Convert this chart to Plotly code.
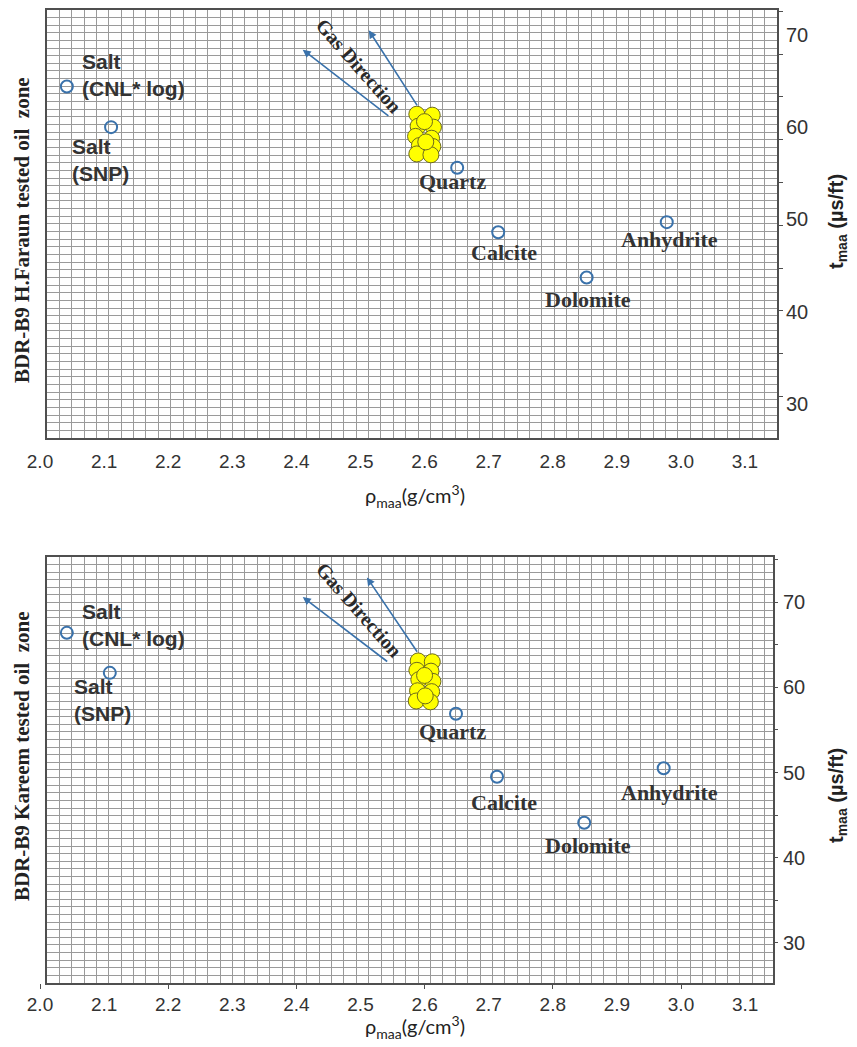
import plotly.graph_objects as go

# ---------------------------------------------------------------------------
# Matrix density (rho_maa) vs matrix transit time (t_maa) cross-plot data
# ---------------------------------------------------------------------------
x_tick_vals = [2.0, 2.1, 2.2, 2.3, 2.4, 2.5, 2.6, 2.7, 2.8, 2.9, 3.0, 3.1]
x_tick_text = ["2.0", "2.1", "2.2", "2.3", "2.4", "2.5", "2.6", "2.7", "2.8", "2.9", "3.0", "3.1"]
y_tick_vals = [30, 40, 50, 60, 70]
y_tick_text = ["30", "40", "50", "60", "70"]

mineral_names = ["Salt<br>(CNL* log)", "Salt<br>(SNP)", "Quartz", "Calcite", "Dolomite", "Anhydrite"]

# mineral reference points, H.Faraun panel
faraun_min_rho = [2.042, 2.111, 2.651, 2.715, 2.853, 2.978]
faraun_min_dt = [64.4, 60.0, 55.6, 48.6, 43.7, 49.7]
# mineral reference points, Kareem panel
kareem_min_rho = [2.042, 2.109, 2.649, 2.713, 2.849, 2.973]
kareem_min_dt = [66.4, 61.7, 56.9, 49.5, 44.1, 50.5]

# tested oil zone samples
faraun_zone_rho = [2.588, 2.612, 2.590, 2.614, 2.586, 2.611, 2.592, 2.613, 2.588, 2.610, 2.600, 2.602]
faraun_zone_dt = [61.4, 61.3, 60.1, 60.0, 59.0, 58.8, 58.0, 57.9, 57.1, 57.0, 60.6, 58.4]
kareem_zone_rho = [2.590, 2.612, 2.588, 2.610, 2.591, 2.613, 2.589, 2.611, 2.587, 2.609, 2.600, 2.601]
kareem_zone_dt = [63.1, 63.0, 62.0, 61.9, 60.9, 60.7, 59.6, 59.5, 58.4, 58.3, 61.4, 59.0]

# gas-effect direction arrows: (tail rho, tail dt, head rho, head dt)
faraun_gas_arrows = [(2.590, 62.2, 2.513, 70.5), (2.546, 61.1, 2.410, 68.4)]
kareem_gas_arrows = [(2.590, 64.0, 2.510, 72.9), (2.544, 62.9, 2.410, 70.6)]
faraun_gas_label = (2.498, 66.65)
kareem_gas_label = (2.498, 69.06)

# ---------------------------------------------------------------------------
W, H = 857, 1047
SERIF = "Liberation Serif, Times New Roman, serif"
SANS = "Liberation Sans, Arial, sans-serif"
BLUE = "#3a72ab"
FRAME = "#4f4f4f"
GRID = "#9a9a9a"


def fx(p):
    return p / W


def fy(p):
    return 1 - p / H


panels = [
    dict(
        title="BDR-B9 H.Faraun tested oil\u00a0 zone",
        rho=faraun_min_rho, dt=faraun_min_dt,
        zrho=faraun_zone_rho, zdt=faraun_zone_dt,
        arrows=faraun_gas_arrows, gas=faraun_gas_label,
        left=47, lab_left=40, right=777, top=10, bottom=438,
        xr=(2.011, 3.150), xr_lab=(2.0, 3.150), yr=(26.3, 72.7),
        ydt=0.829,
        shifts=[(13, 12, "left"), (-41, -33, "left"), (-5, -14, "center"),
                (6, -20, "center"), (1, -22, "center"), (3, -17, "center")],
        ytitle_y=230, rtitle_y=222, xtitle_y=496,
        yticks=dict(ticks="", ticklabelstandoff=8,
                    minor=dict(ticks="outside", ticklen=5, tick0=30.8, dtick=4.64,
                               tickcolor=FRAME, showgrid=False)),
        xticks=dict(ticks="", ticklabelstandoff=10),
    ),
    dict(
        title="BDR-B9 Kareem tested oil\u00a0 zone",
        rho=kareem_min_rho, dt=kareem_min_dt,
        zrho=kareem_zone_rho, zdt=kareem_zone_dt,
        arrows=kareem_gas_arrows, gas=kareem_gas_label,
        left=47, lab_left=40, right=773, top=557, bottom=983,
        xr=(2.011, 3.1435), xr_lab=(2.0, 3.1435), yr=(25.3, 75.3),
        ydt=0.893,
        shifts=[(13, 8, "left"), (-38, -27, "left"), (-4, -18, "center"),
                (7, -26, "center"), (4, -23, "center"), (6, -24, "center")],
        ytitle_y=757, rtitle_y=796, xtitle_y=1027,
        yticks=dict(ticks="outside", ticklen=4, tickcolor=FRAME, ticklabelstandoff=1,
                    minor=dict(ticks="outside", ticklen=4, tick0=25, dtick=5,
                               tickcolor=FRAME, showgrid=False)),
        xticks=dict(ticks="", ticklabelstandoff=8,
                    minor=dict(ticks="outside", ticklen=5, tick0=2.0, dtick=0.2,
                               tickcolor=FRAME, showgrid=False)),
    ),
]

fig = go.Figure()
layout = {}
annotations = []

for i, p in enumerate(panels):
    dx = "x" if i == 0 else f"x{2 * i + 1}"
    dy = "y" if i == 0 else f"y{2 * i + 1}"
    hx, hy = f"x{2 * i + 2}", f"y{2 * i + 2}"
    dxk = "xaxis" if i == 0 else f"xaxis{2 * i + 1}"
    dyk = "yaxis" if i == 0 else f"yaxis{2 * i + 1}"
    hxk, hyk = f"xaxis{2 * i + 2}", f"yaxis{2 * i + 2}"
    vdom = [fy(p["bottom"]), fy(p["top"])]

    # graph-paper data subplot with a closed frame
    layout[dxk] = dict(
        domain=[fx(p["left"]), fx(p["right"])], range=list(p["xr"]), anchor=dy,
        showticklabels=False, ticks="", zeroline=False, automargin=False,
        showgrid=True, gridcolor=GRID, gridwidth=1, tick0=p["xr"][0], dtick=0.0193,
        showline=True, mirror=True, linecolor=FRAME, linewidth=2,
    )
    layout[dyk] = dict(
        domain=vdom, range=list(p["yr"]), anchor=dx,
        showticklabels=False, ticks="", zeroline=False, automargin=False,
        showgrid=True, gridcolor=GRID, gridwidth=1, tick0=p["yr"][0], dtick=p["ydt"],
        showline=True, mirror=True, linecolor=FRAME, linewidth=2,
    )
    # scale subplot carrying the tick labels
    layout[hxk] = dict(
        domain=[fx(p["lab_left"]), fx(p["right"])], range=list(p["xr_lab"]), anchor=hy,
        tickmode="array", tickvals=x_tick_vals, ticktext=x_tick_text,
        showgrid=False, zeroline=False, showline=False, automargin=False,
        tickfont=dict(family=SANS, size=19, color="#333333"),
        **p["xticks"],
    )
    layout[hyk] = dict(
        domain=vdom, range=list(p["yr"]), anchor=hx, side="right",
        tickmode="array", tickvals=y_tick_vals, ticktext=y_tick_text,
        showgrid=False, zeroline=False, showline=False, automargin=False,
        tickfont=dict(family=SANS, size=20, color="#333333"),
        **p["yticks"],
    )
    fig.add_trace(go.Scatter(x=[], y=[], xaxis=hx, yaxis=hy, showlegend=False, hoverinfo="skip"))

    # tested-zone samples
    fig.add_trace(go.Scatter(
        x=p["zrho"], y=p["zdt"], xaxis=dx, yaxis=dy, mode="markers", showlegend=False,
        marker=dict(size=16, color="#ffff00", line=dict(color="#6d6a1c", width=1)),
    ))
    # mineral points
    fig.add_trace(go.Scatter(
        x=p["rho"], y=p["dt"], xaxis=dx, yaxis=dy, mode="markers", showlegend=False,
        marker=dict(symbol="circle-open", size=12, color=BLUE, line=dict(width=2)),
    ))

    for name, r, t, (sx, sy, anc) in zip(mineral_names, p["rho"], p["dt"], p["shifts"]):
        is_salt = name.startswith("Salt")
        annotations.append(dict(
            x=r, y=t, xref=dx, yref=dy, text=name, showarrow=False,
            xanchor=anc, yanchor="middle", xshift=sx, yshift=sy, align="left",
            font=dict(family=SANS if is_salt else SERIF, size=21 if is_salt else 22,
                      color="#333333", weight="bold"),
        ))

    for tr, tt, hr, ht in p["arrows"]:
        annotations.append(dict(
            x=hr, y=ht, ax=tr, ay=tt, xref=dx, yref=dy, axref=dx, ayref=dy,
            text="", showarrow=True, arrowhead=2, arrowsize=1, arrowwidth=1.6,
            arrowcolor=BLUE,
        ))

    annotations.append(dict(
        x=p["gas"][0], y=p["gas"][1], xref=dx, yref=dy, text="Gas Direction",
        showarrow=False, textangle=48.6, xanchor="center", yanchor="middle",
        font=dict(family=SERIF, size=20, color="#2a2a2a", weight="bold"),
    ))

    # axis titles
    annotations.append(dict(
        x=fx(22), y=fy(p["ytitle_y"]), xref="paper", yref="paper", text=p["title"],
        showarrow=False, textangle=-90, xanchor="center", yanchor="middle",
        font=dict(family=SERIF, size=21, color="#222222", weight="bold"),
    ))
    annotations.append(dict(
        x=fx(837), y=fy(p["rtitle_y"]), xref="paper", yref="paper",
        text="t<sub>maa</sub> (µs/ft)", showarrow=False, textangle=-90,
        xanchor="center", yanchor="middle",
        font=dict(family=SANS, size=20, color="#222222", weight="bold"),
    ))
    annotations.append(dict(
        x=fx(415), y=fy(p["xtitle_y"]), xref="paper", yref="paper",
        text="ρ<sub>maa</sub>(g/cm<sup>3</sup>)", showarrow=False,
        xanchor="center", yanchor="middle",
        font=dict(family="Lato, Open Sans, sans-serif", size=20, color="#222222"),
    ))

fig.update_layout(
    width=W, height=H, margin=dict(l=0, r=0, t=0, b=0, autoexpand=False),
    paper_bgcolor="white", plot_bgcolor="rgba(0,0,0,0)",
    showlegend=False, annotations=annotations, **layout,
)

fig.write_html("out.html")
